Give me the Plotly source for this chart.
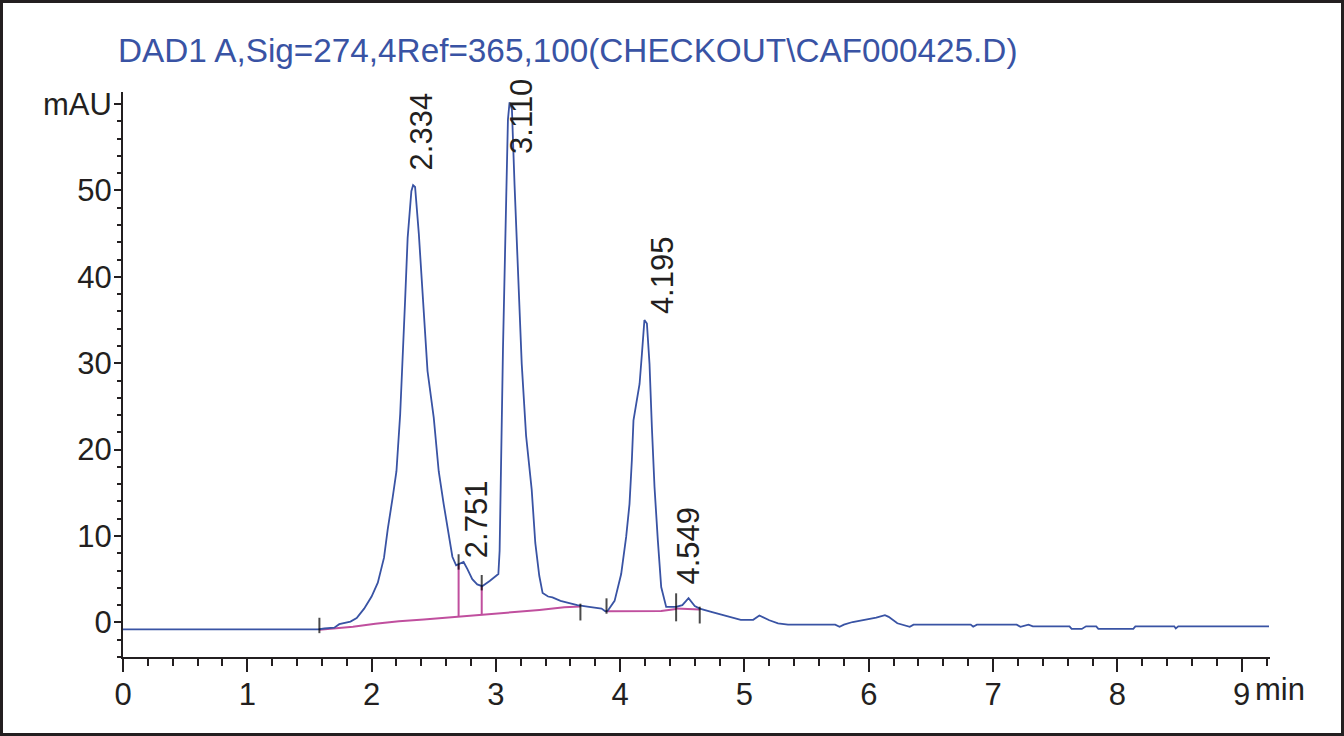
import plotly.graph_objects as go

# ---------------- data ----------------
time_min = [0.00, 1.57, 1.62, 1.70, 1.74, 1.83, 1.88, 1.94, 2.00, 2.05, 2.10, 2.13,
            2.17, 2.20, 2.23, 2.25, 2.27, 2.29, 2.32, 2.334, 2.35, 2.38, 2.42, 2.45,
            2.50, 2.54, 2.58, 2.62, 2.65, 2.68, 2.72, 2.74, 2.77, 2.81, 2.85, 2.89,
            2.95, 3.02, 3.03, 3.044, 3.057, 3.083, 3.097, 3.110, 3.129, 3.150, 3.176,
            3.208, 3.243, 3.288, 3.317, 3.349, 3.376, 3.42, 3.455, 3.52, 3.575, 3.655,
            3.75, 3.85, 3.88, 3.90, 3.955, 4.008, 4.048, 4.075, 4.094, 4.107, 4.129,
            4.156, 4.175, 4.195, 4.215, 4.236, 4.255, 4.276, 4.303, 4.330, 4.37, 4.45,
            4.50, 4.55, 4.60, 4.64, 4.74, 4.84, 4.97, 5.07, 5.12, 5.20, 5.27, 5.35,
            5.73, 5.765, 5.80, 5.87, 5.96, 6.06, 6.13, 6.16, 6.23, 6.33, 6.36, 6.82,
            6.84, 6.87, 7.19, 7.22, 7.285, 7.32, 7.615, 7.632, 7.714, 7.748, 7.83,
            7.847, 8.128, 8.145, 8.458, 8.47, 8.49, 9.22]
signal_mau = [-0.80, -0.80, -0.70, -0.60, -0.20, 0.10, 0.50, 1.60, 3.00, 4.60, 7.50, 10.8,
              14.5, 17.5, 24.1, 29.9, 37.4, 44.5, 49.9, 50.6, 50.4, 45.0, 36.6, 29.1,
              23.7, 17.5, 13.7, 10.4, 7.6, 6.6, 6.9, 7.0, 6.2, 5.0, 4.4, 4.2,
              4.8, 5.6, 8.3, 21.6, 31.6, 49.0, 58.2, 60.2, 59.4, 50.7, 40.7,
              29.9, 21.6, 15.4, 9.2, 5.4, 3.4, 3.0, 2.9, 2.5, 2.3, 2.0,
              1.8, 1.6, 1.3, 1.35, 2.5, 5.6, 9.9, 13.7, 18.8, 23.4, 25.3,
              27.6, 31.1, 35.0, 34.6, 29.9, 22.6, 15.7, 9.5, 4.1, 1.8, 1.8,
              2.0, 2.8, 1.9, 1.6, 1.2, 0.8, 0.3, 0.3, 0.8, 0.25, -0.10, -0.25,
              -0.25, -0.50, -0.25, 0.05, 0.30, 0.55, 0.85, 0.65, -0.10, -0.50, -0.25, -0.25,
              -0.50, -0.25, -0.25, -0.50, -0.25, -0.45, -0.45, -0.75, -0.75, -0.45, -0.45,
              -0.75, -0.75, -0.45, -0.45, -0.70, -0.45, -0.45]

# integration baselines (three segments)
base1_t = [1.58, 1.85, 2.03, 2.22, 2.42, 2.70, 2.886, 3.15, 3.35, 3.55, 3.68]
base1_v = [-0.85, -0.50, -0.15, 0.15, 0.35, 0.65, 0.85, 1.20, 1.45, 1.75, 1.85]
base2_t = [3.89, 4.33, 4.45]
base2_v = [1.30, 1.32, 1.55]
base3_t = [4.45, 4.64]
base3_v = [1.60, 1.50]

# drop lines between fused peaks: time, baseline value, signal value
drop_t = [2.70, 2.886]
drop_low = [0.65, 0.85]
drop_high = [6.7, 4.2]

# peak start / end markers
marker_t = [1.58, 2.70, 2.886, 3.68, 3.89, 4.45, 4.64]
marker_v = [-0.35, 7.0, 4.6, 1.2, 1.9, 1.75, 0.85]

# peak retention time labels
peak_rt = [2.334, 2.751, 3.110, 4.195, 4.549]
peak_label = ["2.334", "2.751", "3.110", "4.195", "4.549"]
label_y = [52.1, 7.2, 54.0, 35.5, 4.2]

x_tickvals = [0, 1, 2, 3, 4, 5, 6, 7, 8, 9]
x_ticktext = ["0", "1", "2", "3", "4", "5", "6", "7", "8", "9"]
y_tickvals = [0, 10, 20, 30, 40, 50, 60]
y_ticktext = ["0", "10", "20", "30", "40", "50", "mAU"]

title_text = "DAD1 A,Sig=274,4Ref=365,100(CHECKOUT\\CAF000425.D)"

# ---------------- styles ----------------
BLUE = "#3953a4"
MAGENTA = "#c04f9e"
INK = "#231f20"
FONT = "Liberation Sans, Arial, sans-serif"
label_xshift = [8, 11, 12, 18, 0]
marker_size = [11, 11, 11, 12, 11, 20, 12]

W, H = 1344, 736
ML, MR, MT, MB = 123, 74, 92, 79
PW, PH = W - ML - MR, H - MT - MB

fig = go.Figure()

for bt, bv in [(base1_t, base1_v), (base2_t, base2_v), (base3_t, base3_v)]:
    fig.add_trace(go.Scatter(x=bt, y=bv, mode="lines",
                             line=dict(color=MAGENTA, width=2),
                             hoverinfo="skip", showlegend=False))

for dt, lo, hi in zip(drop_t, drop_low, drop_high):
    fig.add_trace(go.Scatter(x=[dt, dt], y=[lo, hi], mode="lines",
                             line=dict(color=MAGENTA, width=2),
                             hoverinfo="skip", showlegend=False))

fig.add_trace(go.Scatter(x=time_min, y=signal_mau, mode="lines",
                         line=dict(color=BLUE, width=1.8),
                         name="DAD1 A", showlegend=False))

fig.add_trace(go.Scatter(x=marker_t, y=marker_v, mode="markers",
                         marker=dict(symbol="line-ns", size=marker_size,
                                     line=dict(color="#000000", width=2)),
                         hoverinfo="skip", showlegend=False))

for rt, txt, ly, xs in zip(peak_rt, peak_label, label_y, label_xshift):
    fig.add_annotation(x=rt, y=ly, text=txt, textangle=-90, showarrow=False,
                       xanchor="center", yanchor="bottom", xshift=xs,
                       font=dict(family=FONT, size=31, color=INK))

# "min" unit next to the last x tick label
fig.add_annotation(x=9, xref="x", y=0, yref="paper", text="min", showarrow=False,
                   xanchor="left", yanchor="top", xshift=11, yshift=-13,
                   font=dict(family=FONT, size=31, color=INK))

# outer frame
def px_to_paper_x(px):
    return (px - ML) / PW

def px_to_paper_y(py):
    return (H - MB - py) / PH

fig.add_shape(type="rect", xref="paper", yref="paper",
              x0=px_to_paper_x(1.5), x1=px_to_paper_x(W - 1.5),
              y0=px_to_paper_y(H - 1.5), y1=px_to_paper_y(1.5),
              line=dict(color=INK, width=3), fillcolor="rgba(0,0,0,0)", layer="above")

fig.update_layout(
    width=W, height=H,
    margin=dict(l=ML, r=MR, t=MT, b=MB, pad=0),
    paper_bgcolor="white", plot_bgcolor="white",
    font=dict(family=FONT, size=31, color=INK),
    title=dict(text=title_text, xref="container", yref="container",
               x=118 / W, xanchor="left", y=1 - 50 / H, yanchor="middle",
               font=dict(family=FONT, size=33.3, color=BLUE)),
    showlegend=False,
)

fig.update_xaxes(range=[0, 9.228], showgrid=False, zeroline=False,
                 showline=True, linecolor=INK, linewidth=2,
                 ticks="outside", ticklen=13, tickwidth=2, tickcolor=INK,
                 tickvals=x_tickvals, ticktext=x_ticktext,
                 tickfont=dict(family=FONT, size=31, color=INK),
                 ticklabelstandoff=-4,
                 minor=dict(dtick=0.2, tick0=0, ticks="outside", ticklen=7,
                            tickwidth=1.5, tickcolor=INK, showgrid=False))
fig.update_yaxes(range=[-4, 61.39], showgrid=False, zeroline=False,
                 showline=True, linecolor=INK, linewidth=2,
                 ticks="outside", ticklen=7, tickwidth=1.5, tickcolor=INK,
                 tickvals=y_tickvals, ticktext=y_ticktext,
                 tickfont=dict(family=FONT, size=31, color=INK),
                 ticklabelstandoff=-4,
                 minor=dict(dtick=2, tick0=0, ticks="outside", ticklen=4,
                            tickwidth=1.5, tickcolor=INK, showgrid=False))

fig.write_html("out.html",
               config={"displayModeBar": False},
               post_script="document.body.style.margin='0';"
                           "document.body.style.overflow='hidden';")
